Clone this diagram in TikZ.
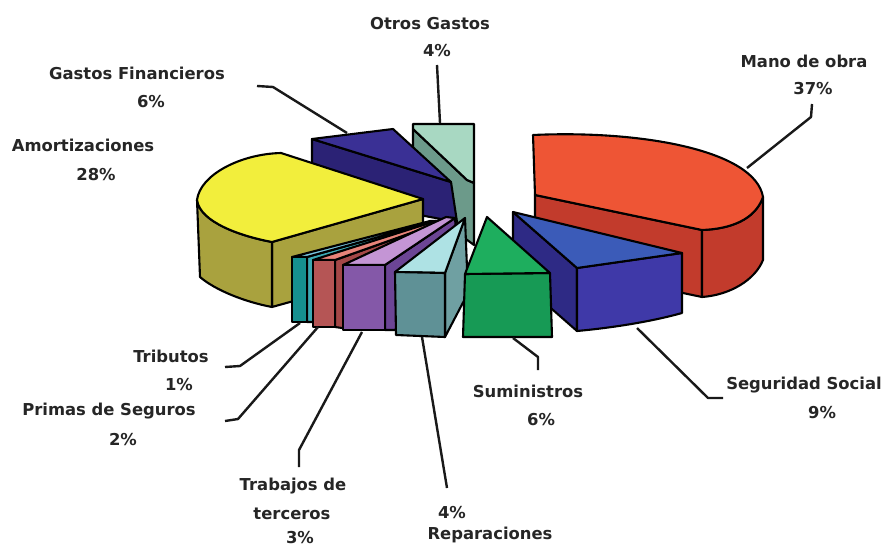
\documentclass[tikz,border=0pt]{standalone}
\usepackage{fontspec}
\setmainfont{DejaVu Sans}
\newcommand\lblfont{\fontsize{16.4}{19}\selectfont\bfseries}
\definecolor{mint}{HTML}{A8D8C2}
\definecolor{sage}{HTML}{6C9A8A}
\definecolor{indtop}{HTML}{3A3095}
\definecolor{indfront}{HTML}{2B2275}
\definecolor{yeltop}{HTML}{F2EE3C}
\definecolor{olive}{HTML}{A9A23E}
\definecolor{trtop}{HTML}{78C6E0}
\definecolor{trside}{HTML}{3CAAB4}
\definecolor{trfront}{HTML}{16908F}
\definecolor{prtop}{HTML}{E8847A}
\definecolor{prside}{HTML}{A44848}
\definecolor{prfront}{HTML}{B55555}
\definecolor{putop}{HTML}{C495D5}
\definecolor{puside}{HTML}{6C4595}
\definecolor{pufront}{HTML}{8458A8}
\definecolor{retop}{HTML}{AEE2E4}
\definecolor{reside}{HTML}{6FA0A2}
\definecolor{refront}{HTML}{5F9196}
\definecolor{grtop}{HTML}{1EAE5E}
\definecolor{grfront}{HTML}{179A55}
\definecolor{redtop}{HTML}{EE5535}
\definecolor{redside}{HTML}{C23B2C}
\definecolor{bltop}{HTML}{3B5BB8}
\definecolor{blfront}{HTML}{3F39A8}
\definecolor{blleft}{HTML}{2E2A85}
\begin{document}
\begin{tikzpicture}[x=1pt,y=-1pt,
  face/.style={draw=black,line width=2.1pt,line join=round},
  lead/.style={draw=black!90,line width=2.4pt,line join=round},
  lab/.style={font=\lblfont,text=black!85,anchor=base,inner sep=0pt}]
\useasboundingbox (0,0) rectangle (885,548);
\fill[white] (0,0) rectangle (885,548);

% Otros Gastos
\filldraw[face,fill=sage] (413,129) -- (467,180) -- (474,183) -- (474,245) -- (413,200) -- cycle;
\filldraw[face,fill=mint] (413,124) -- (474,124) -- (474,183) -- (467,180) -- (413,129) -- cycle;
% Gastos Financieros
\filldraw[face,fill=indfront] (312,139) -- (451,182) -- (457,222) -- (312,195) -- cycle;
\filldraw[face,fill=indtop] (312,139) -- (393,129) -- (451,182) -- cycle;
% Amortizaciones
\filldraw[face,fill=olive] (272,242) -- (423,199) -- (423,265) -- (272,307) -- cycle;
\filldraw[face,fill=olive] (197,200) .. controls (200,222) and (240,236) .. (272,242) -- (272,307) .. controls (245,302) and (215,290) .. (200,277) -- cycle;
\filldraw[face,fill=yeltop] (423,199) -- (281,153) .. controls (240,154) and (200,175) .. (197,200) .. controls (200,222) and (240,236) .. (272,242) -- cycle;
% Tributos
\filldraw[face,fill=trside] (307,257) -- (436,221) -- (437,250) -- (312,322) -- (307,322) -- cycle;
\filldraw[face,fill=trtop] (292,257) -- (307,257) -- (436,221) -- (430,221) -- cycle;
\filldraw[face,fill=trfront] (292,257) -- (307,257) -- (307,322) -- (292,322) -- cycle;
% Primas de Seguros
\filldraw[face,fill=prside] (335,260) -- (442,222) -- (443,262) -- (342,328) -- (335,327) -- cycle;
\filldraw[face,fill=prtop] (313,260) -- (335,260) -- (442,222) -- (436,221) -- cycle;
\filldraw[face,fill=prfront] (313,260) -- (335,260) -- (335,327) -- (313,327) -- cycle;
% Trabajos de terceros
\filldraw[face,fill=puside] (385,265) -- (455,218) -- (458,258) -- (395,330) -- (385,330) -- cycle;
\filldraw[face,fill=putop] (343,265) -- (385,265) -- (455,218) -- (446,217) -- cycle;
\filldraw[face,fill=pufront] (343,265) -- (385,265) -- (385,330) -- (343,330) -- cycle;
% Reparaciones
\filldraw[face,fill=reside] (445,273) -- (465,218) -- (468,293) -- (445,337) -- cycle;
\filldraw[face,fill=retop] (395,272) -- (445,273) -- (465,218) -- cycle;
\filldraw[face,fill=refront] (395,272) -- (445,273) -- (445,337) -- (396,335) -- cycle;
% Mano de obra
\filldraw[face,fill=redside] (535,195) -- (702,230) -- (702,297) -- (535,262) -- cycle;
\filldraw[face,fill=redside] (702,230) .. controls (730,229) and (755,220) .. (763,197) -- (763,260) .. controls (755,280) and (730,295) .. (702,297) -- cycle;
\filldraw[face,fill=redtop] (535,195) -- (533,135) .. controls (640,130) and (755,150) .. (763,197) .. controls (755,220) and (730,229) .. (702,230) -- cycle;
% Seguridad Social
\filldraw[face,fill=blleft] (513,212) -- (577,268) -- (577,331) -- (513,275) -- cycle;
\filldraw[face,fill=blfront] (577,268) -- (682,253) -- (682,313) .. controls (650,322) and (610,328) .. (577,331) -- cycle;
\filldraw[face,fill=bltop] (513,212) -- (682,253) -- (577,268) -- cycle;
% Suministros
\filldraw[face,fill=grfront] (465,274) -- (550,273) -- (552,337) -- (463,337) -- cycle;
\filldraw[face,fill=grtop] (487,217) -- (465,274) -- (550,273) -- cycle;

% labels
\node[lab] (otros) at (430,30) {Otros Gastos};
\node[lab] (otrosp) at (437,57) {4\%};
\node[lab] (mano) at (804,68) {Mano de obra};
\node[lab] (manop) at (813,95) {37\%};
\node[lab] (gf) at (137,80) {Gastos Financieros};
\node[lab] (gfp) at (151,108) {6\%};
\node[lab] (amo) at (83,152) {Amortizaciones};
\node[lab] (amop) at (96,180) {28\%};
\node[lab] (tri) at (171,362) {Tributos};
\node[lab] (trip) at (179,390) {1\%};
\node[lab] (pri) at (109,415) {Primas de Seguros};
\node[lab] (prip) at (123,445) {2\%};
\node[lab] (tra1) at (293,490) {Trabajos de};
\node[lab] (tra2) at (292,519) {terceros};
\node[lab] (trap) at (300,543) {3\%};
\node[lab] (repp) at (452,518) {4\%};
\node[lab] (rep) at (490,539) {Reparaciones};
\node[lab] (sum) at (528,397) {Suministros};
\node[lab] (sump) at (541,425) {6\%};
\node[lab] (seg) at (804,389) {Seguridad Social};
\node[lab] (segp) at (822,418) {9\%};

% leader anchors
\coordinate (c-otros) at (440,123);
\coordinate (c-mano) at (747,168);
\coordinate (c-gf) at (347,133);
\coordinate (c-seg) at (637,328);
\coordinate (c-sum) at (513,338);
\coordinate (c-rep) at (422,337);
\coordinate (c-tra) at (362,332);
\coordinate (c-pri) at (318,327);
\coordinate (c-tri) at (300,323);

\draw[lead] (437,65) -- (c-otros);
\draw[lead] (812,104) -- (811,117) -- (c-mano);
\draw[lead] (257,86) -- (273,87) -- (c-gf);
\draw[lead] (723,398) -- (708,398) -- (c-seg);
\draw[lead] (538,370) -- (538,357) -- (c-sum);
\draw[lead] (447,488) -- (c-rep);
\draw[lead] (299,467) -- (299,450) -- (c-tra);
\draw[lead] (225,421) -- (238,419) -- (c-pri);
\draw[lead] (225,367) -- (240,366) -- (c-tri);
\end{tikzpicture}
\end{document}
